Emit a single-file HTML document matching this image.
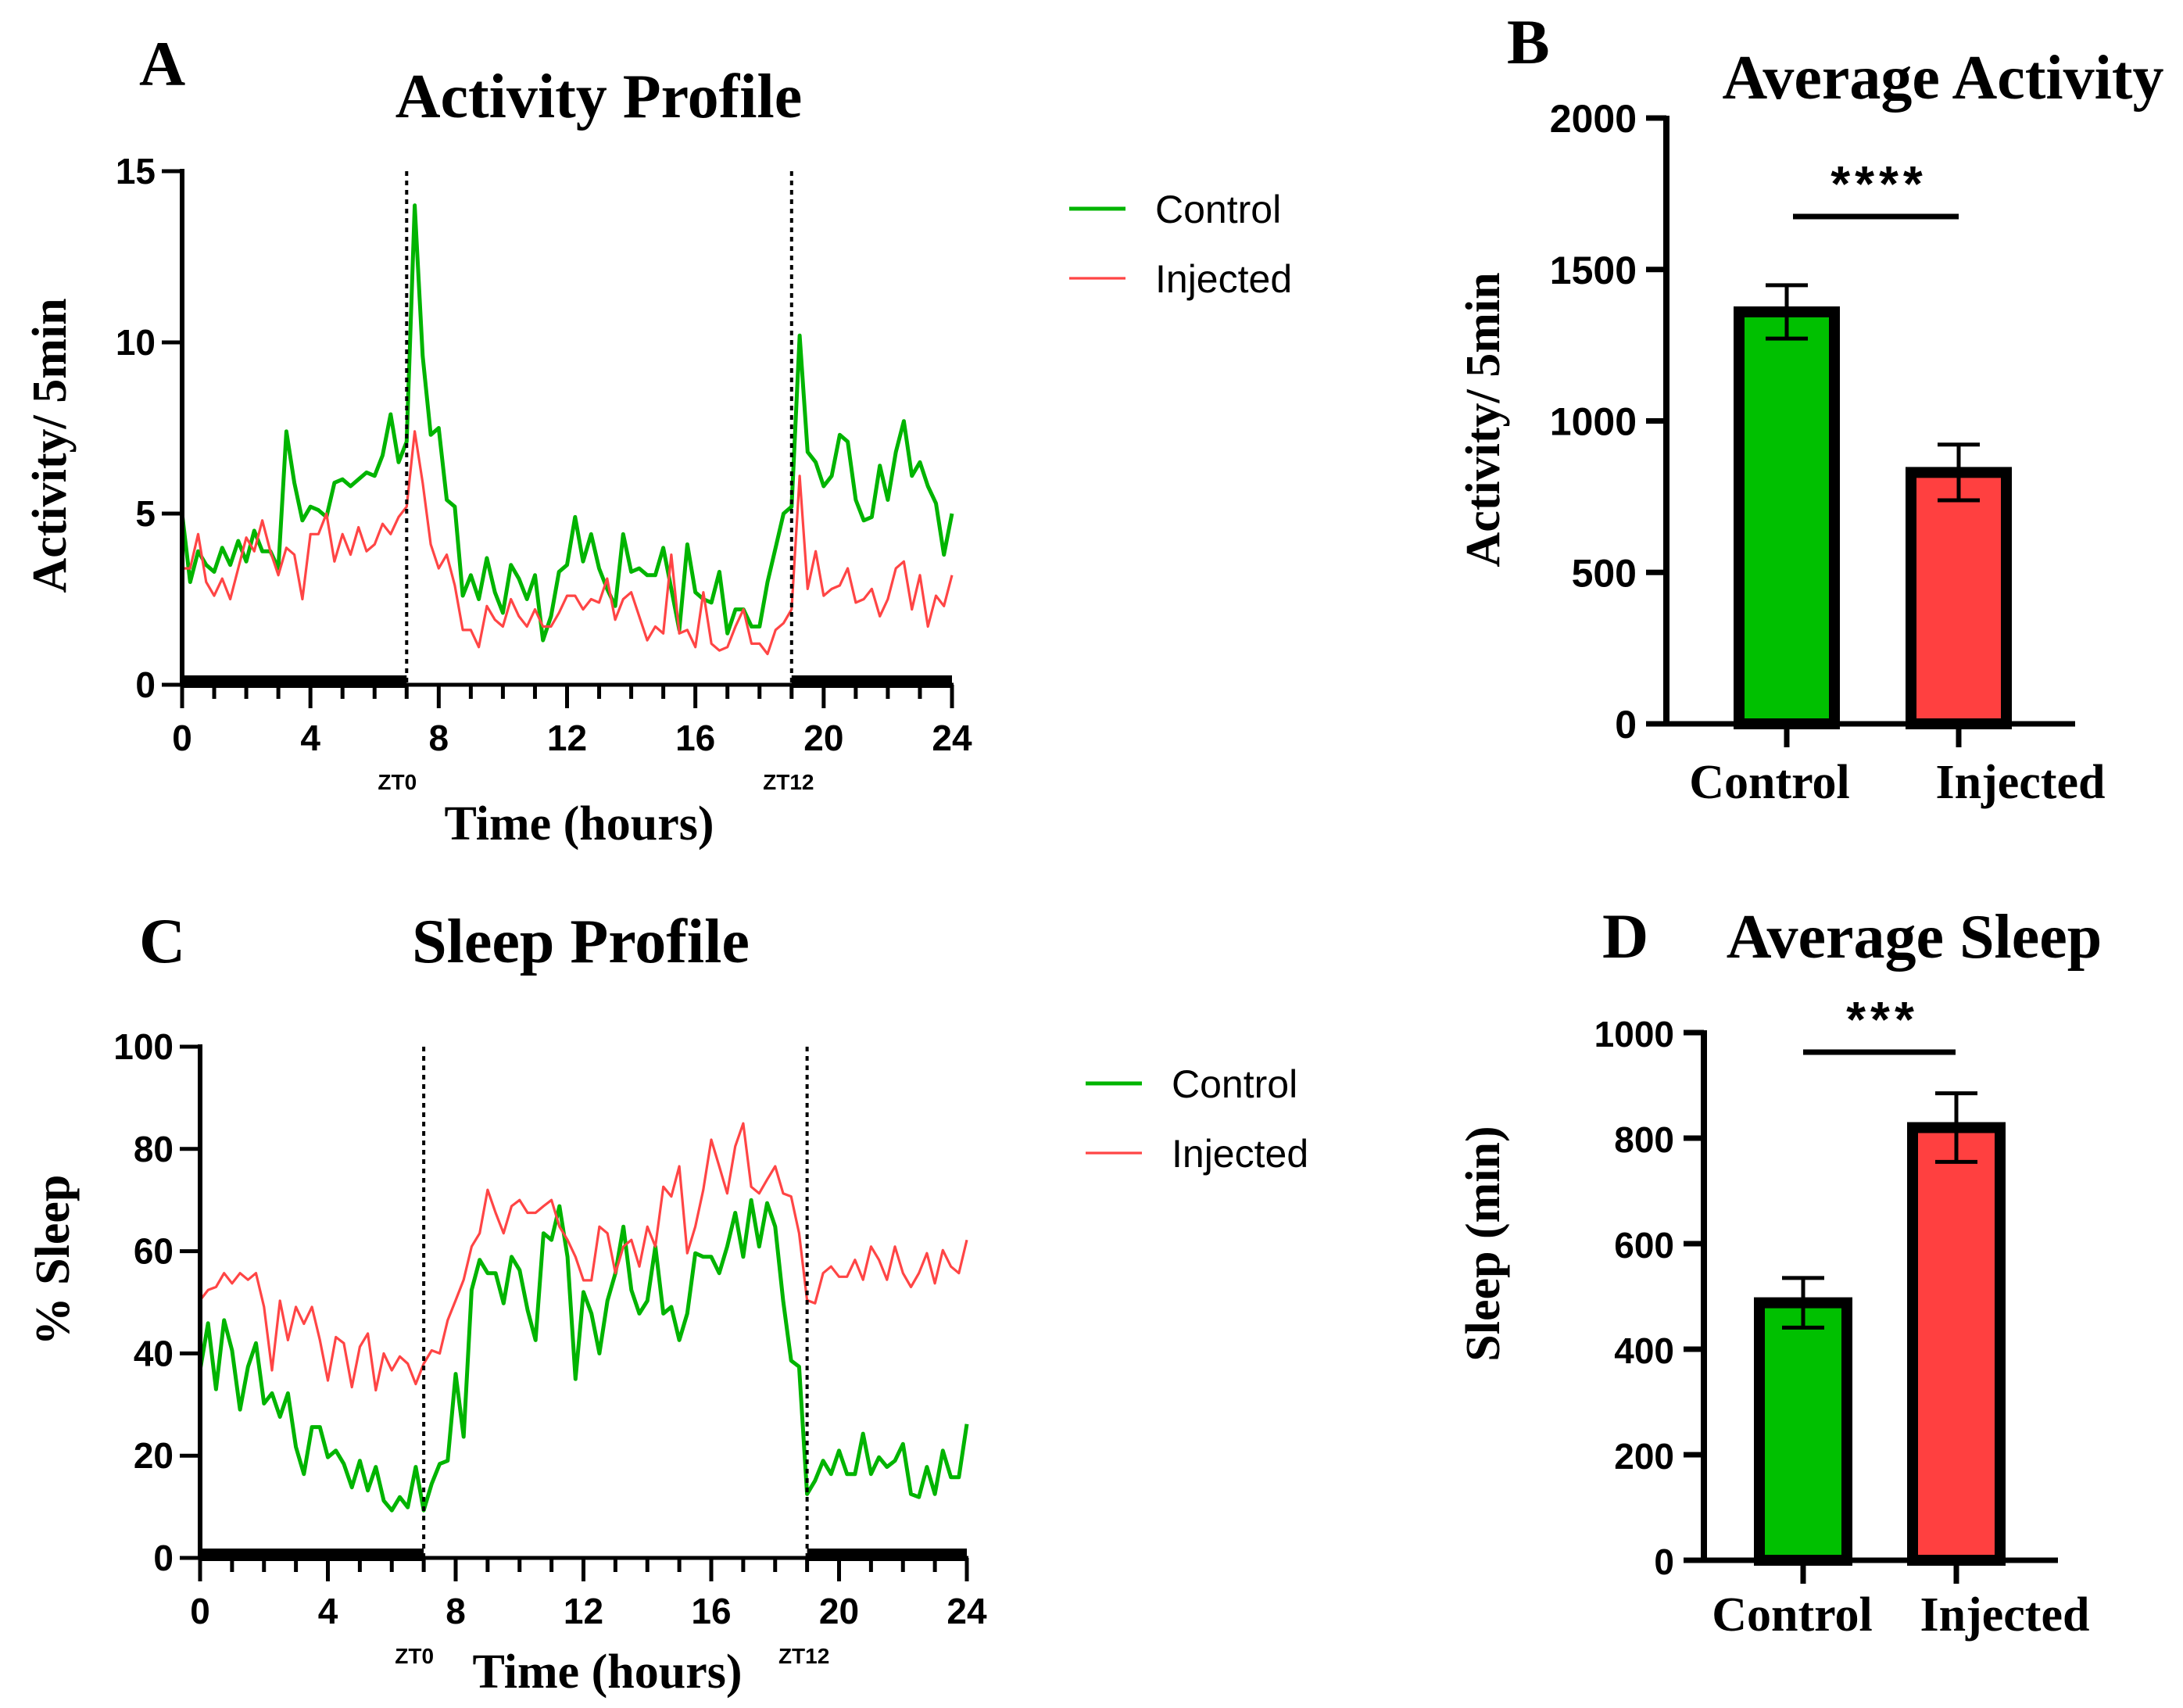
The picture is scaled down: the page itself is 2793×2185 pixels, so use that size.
<!DOCTYPE html>
<html><head><meta charset="utf-8"><style>
html,body{margin:0;padding:0;background:#fff;}
svg{display:block;}
.serif{font-family:"Liberation Serif",serif;font-weight:bold;}
.sans{font-family:"Liberation Sans",sans-serif;}
</style></head><body>
<svg id="fig" xmlns="http://www.w3.org/2000/svg" width="2793" height="2185" viewBox="0 0 2793 2185"></svg>
<script>
// ---------- data ----------
const hours = []; for (let i = 0; i <= 96; i++) hours.push(i * 0.25);
const xTicksHours = [0, 4, 8, 12, 16, 20, 24];
const activityTicks = [0, 5, 10, 15];
const sleepTicks = [0, 20, 40, 60, 80, 100];
const activityControl = [5.0,3.0,3.9,3.5,3.3,4.0,3.5,4.2,3.6,4.5,3.9,3.9,3.4,7.4,5.9,4.8,5.2,5.1,4.9,5.9,6.0,5.8,6.0,6.2,6.1,6.7,7.9,6.5,7.1,14.0,9.6,7.3,7.5,5.4,5.2,2.6,3.2,2.5,3.7,2.7,2.1,3.5,3.1,2.5,3.2,1.3,2.0,3.3,3.5,4.9,3.6,4.4,3.4,2.8,2.3,4.4,3.3,3.4,3.2,3.2,4.0,2.8,1.6,4.1,2.7,2.5,2.4,3.3,1.5,2.2,2.2,1.7,1.7,3.0,4.0,5.0,5.2,10.2,6.8,6.5,5.8,6.1,7.3,7.1,5.4,4.8,4.9,6.4,5.4,6.8,7.7,6.1,6.5,5.8,5.3,3.8,5.0];
const activityInjected = [3.4,3.4,4.4,3.0,2.6,3.1,2.5,3.4,4.3,3.9,4.8,3.9,3.2,4.0,3.8,2.5,4.4,4.4,5.0,3.6,4.4,3.8,4.6,3.9,4.1,4.7,4.4,4.9,5.2,7.4,5.9,4.1,3.4,3.8,2.9,1.6,1.6,1.1,2.3,1.9,1.7,2.5,2.0,1.7,2.2,1.7,1.7,2.1,2.6,2.6,2.2,2.5,2.4,3.1,1.9,2.5,2.7,2.0,1.3,1.7,1.5,3.8,1.5,1.6,1.1,2.7,1.2,1.0,1.1,1.7,2.2,1.2,1.2,0.9,1.6,1.8,2.2,6.1,2.8,3.9,2.6,2.8,2.9,3.4,2.4,2.5,2.8,2.0,2.5,3.4,3.6,2.2,3.2,1.7,2.6,2.3,3.2];
const sleepControl = [36.7,45.9,33,46.5,40.6,29,37.4,42,30.2,32.2,27.6,32.2,21.7,16.4,25.6,25.6,19.7,21,18.4,13.8,19,13.2,17.8,11.2,9.3,11.9,9.9,17.8,9.3,14.5,18.4,19,36,23.7,52.4,58.3,55.7,55.7,49.8,58.9,56.3,48.5,42.6,63.5,62.2,68.8,58.9,35,52,47.8,40,50.3,55.7,64.8,52.4,47.8,50.3,60.9,47.8,49.1,42.6,47.8,59.6,58.9,58.9,55.7,60.9,67.5,58.9,70,60.9,69.4,64.8,50.3,38.6,37.4,12.5,15.1,19,16.4,21,16.4,16.4,24.3,16.4,19.7,17.8,19,22.3,12.5,11.9,17.8,12.5,21,15.8,15.8,26.2];
const sleepInjected = [50.4,52.4,53,55.7,53.7,55.7,54.4,55.7,49.1,36.7,50.3,42.6,49.1,45.8,49.1,42.6,34.7,43.2,42,33.4,41.3,43.9,32.8,40,36.7,39.4,38,34,38,40.6,40,46.5,50.4,54.4,60.9,63.5,72,67.5,63.5,68.8,70,67.5,67.5,68.8,70,64.8,62.2,58.9,54.3,54.3,64.8,63.5,55.7,60.9,62.2,57,64.8,60.9,72.6,70.7,76.6,59.6,64.8,72,81.8,76.6,71.3,80.5,85,72.6,71.3,74,76.6,71.3,70.7,63.5,50.4,49.8,55.7,57,55,55,58.3,54.4,60.9,58.3,54.4,60.9,55.7,53,55.7,59.6,53.7,60.2,57,55.7,62.2];
const groups = ["Control", "Injected"];
const avgActivity = [1360, 830];
const avgActivityErr = [88, 92];
const avgActivityTicks = [0, 500, 1000, 1500, 2000];
const avgSleep = [488, 820];
const avgSleepErr = [47, 65];
const avgSleepTicks = [0, 200, 400, 600, 800, 1000];

const NS = "http://www.w3.org/2000/svg";
const svg = document.getElementById("fig");
function mk(tag, attrs, parent) {
  const e = document.createElementNS(NS, tag);
  for (const k in attrs) e.setAttribute(k, attrs[k]);
  (parent || svg).appendChild(e);
  return e;
}
function txt(x, y, s, size, cls, anchor, parent, extra) {
  const t = mk("text", Object.assign({x: x, y: y, "font-size": size, class: cls, "text-anchor": anchor || "middle", fill: "#000"}, extra || {}), parent);
  t.textContent = s;
  return t;
}

// ---------- line panels ----------
function linePanel(cfg) {
  const g = mk("g", {});
  
  
  const xs = h => cfg.x0 + (h / 24) * (cfg.x1 - cfg.x0);
  const ys = v => cfg.y0 - (v / cfg.ymax) * (cfg.y0 - cfg.yTop);
  [[cfg.ctrl, "#00b400", 5, "control-line"], [cfg.inj, "#ff4545", 3.2, "injected-line"]].forEach(s => {
    let d = "";
    s[0].forEach((v, i) => { d += (i ? "L" : "M") + xs(hours[i]).toFixed(1) + "," + ys(v).toFixed(1); });
    const p = mk("path", {d: d, fill: "none", stroke: s[1], "stroke-width": s[2], "stroke-linejoin": "round"}, g);
    
    
  });
  [7, 19].forEach(h => {
    const l = mk("line", {x1: xs(h), x2: xs(h), y1: cfg.yTop, y2: cfg.y0, stroke: "#000", "stroke-width": 4, "stroke-dasharray": "6,6"}, g);
    
    
  });
  [[0, 7], [19, 24]].forEach(r => {
    const b = mk("rect", {x: xs(r[0]), y: cfg.y0 - 12, width: xs(r[1]) - xs(r[0]), height: 16, fill: "#000"}, g);
    
    
  });
  mk("line", {x1: cfg.x0, x2: cfg.x0, y1: cfg.yTop - 3, y2: cfg.y0 + 2, stroke: "#000", "stroke-width": 6}, g);
  mk("line", {x1: cfg.x0 - 3, x2: cfg.x1 + 2, y1: cfg.y0, y2: cfg.y0, stroke: "#000", "stroke-width": 5}, g);
  for (let h = 0; h <= 24; h++) {
    const major = h % 4 === 0;
    mk("line", {x1: xs(h), x2: xs(h), y1: cfg.y0, y2: cfg.y0 + (major ? 30 : 18), stroke: "#000", "stroke-width": 5}, g);
  }
  xTicksHours.forEach(h => txt(xs(h), cfg.y0 + 84, String(h), 46, "sans", "middle", g, {"font-weight": "bold"}));
  cfg.yticks.forEach(v => {
    mk("line", {x1: cfg.x0 - 26, x2: cfg.x0, y1: ys(v), y2: ys(v), stroke: "#000", "stroke-width": 5}, g);
    txt(cfg.x0 - 34, ys(v) + 16, String(v), 46, "sans", "end", g, {"font-weight": "bold"});
  });
  txt(xs(7) - 12, cfg.ztY, "ZT0", 28, "sans", "middle", g, {"font-weight": "bold"});
  txt(xs(19) - 4, cfg.ztY, "ZT12", 28, "sans", "middle", g, {"font-weight": "bold"});
  txt(cfg.xTitleX, cfg.xTitleY, "Time (hours)", 62, "serif", "middle", g);
  txt(0, 0, cfg.ytitle, 62, "serif", "middle", g, {transform: "translate(" + (cfg.yTitleX) + "," + cfg.yTitleY + ") rotate(-90)"});
  txt(cfg.titleX, cfg.titleY, cfg.title, 80, "serif", "middle", g);
  txt(cfg.letterX, cfg.titleY - cfg.letterDy, cfg.letter, 82, "serif", "start", g);
  [["Control", "#00b400", 5, cfg.legY1], ["Injected", "#ff4545", 3.2, cfg.legY2]].forEach(l => {
    const lg = mk("g", {}, g);
    
    
    mk("line", {x1: cfg.legX, x2: cfg.legX + 72, y1: l[3], y2: l[3], stroke: l[1], "stroke-width": l[2]}, lg);
    txt(cfg.legX + 110, l[3] + 18, l[0], 50, "sans", "start", lg);
  });
}

linePanel({name: "activity-profile-chart", ctrl: activityControl, inj: activityInjected, x0: 233, x1: 1218, y0: 876, yTop: 219, ymax: 15,
  yticks: activityTicks, ytitle: "Activity/ 5min", title: "Activity Profile", titleX: 766, titleY: 150, letter: "A", letterX: 178, letterDy: 41,
  xTitleX: 741, xTitleY: 1074, yTitleX: 84, yTitleY: 570, ztY: 1010, legX: 1368, legY1: 267, legY2: 356});
linePanel({name: "sleep-profile-chart", ctrl: sleepControl, inj: sleepInjected, x0: 256, x1: 1237, y0: 1993, yTop: 1339, ymax: 100,
  yticks: sleepTicks, ytitle: "% Sleep", title: "Sleep Profile", titleX: 743, titleY: 1231, letter: "C", letterX: 178, letterDy: 0,
  xTitleX: 777, xTitleY: 2159, yTitleX: 88, yTitleY: 1612, ztY: 2128, legX: 1389, legY1: 1386, legY2: 1475});

// ---------- bar panels ----------
function barPanel(cfg) {
  const g = mk("g", {});
  
  
  const ys = v => cfg.y0 - (v / cfg.ymax) * (cfg.y0 - cfg.yTop);
  cfg.vals.forEach((v, i) => {
    const cx = cfg.centers[i];
    const b = mk("rect", {x: cx - cfg.bw / 2 + 7, y: ys(v), width: cfg.bw - 14, height: cfg.y0 - ys(v), fill: i ? "#ff4040" : "#00c000", stroke: "#000", "stroke-width": 14}, g);
    
    
    const e = cfg.errs[i];
    const eg = mk("g", {stroke: "#000", "stroke-width": 5}, g);
    
    
    mk("line", {x1: cx, x2: cx, y1: ys(v + e), y2: ys(v - e)}, eg);
    mk("line", {x1: cx - 27, x2: cx + 27, y1: ys(v + e), y2: ys(v + e)}, eg);
    mk("line", {x1: cx - 27, x2: cx + 27, y1: ys(v - e), y2: ys(v - e)}, eg);
    mk("line", {x1: cx, x2: cx, y1: cfg.y0, y2: cfg.y0 + 30, stroke: "#000", "stroke-width": 7}, g);
    txt(cfg.catX[i], cfg.catY, groups[i], 62, "serif", "middle", g);
  });
  mk("line", {x1: cfg.x0, x2: cfg.x0, y1: cfg.yTop - 3, y2: cfg.y0 + 3, stroke: "#000", "stroke-width": 8}, g);
  mk("line", {x1: cfg.x0, x2: cfg.x1, y1: cfg.y0, y2: cfg.y0, stroke: "#000", "stroke-width": 7}, g);
  cfg.ticks.forEach(v => {
    mk("line", {x1: cfg.x0 - 26, x2: cfg.x0, y1: ys(v), y2: ys(v), stroke: "#000", "stroke-width": 7}, g);
    txt(cfg.x0 - 38, ys(v) + 18, String(v), cfg.tickSize, "sans", "end", g, {"font-weight": "bold"});
  });
  mk("line", {x1: cfg.sig[0], x2: cfg.sig[1], y1: cfg.sigY, y2: cfg.sigY, stroke: "#000", "stroke-width": 7}, g);
  txt((cfg.sig[0] + cfg.sig[1]) / 2 + 4, cfg.sigY - 20, cfg.stars, 64, "sans", "middle", g, {"letter-spacing": "6", "font-weight": "bold"});
  txt(0, 0, cfg.ytitle, 62, "serif", "middle", g, {transform: "translate(" + cfg.yTitleX + "," + cfg.yTitleY + ") rotate(-90)"});
  txt(cfg.titleX, cfg.titleY, cfg.title, 80, "serif", "middle", g);
  txt(cfg.letterX, cfg.letterY, cfg.letter, 82, "serif", "start", g);
}

barPanel({name: "average-activity-chart", vals: avgActivity, errs: avgActivityErr, ticks: avgActivityTicks, ymax: 2000,
  x0: 2132, x1: 2655, y0: 926, yTop: 151, centers: [2286, 2506], catX: [2264, 2585], bw: 136, catY: 1021, tickSize: 50,
  sig: [2294, 2506], sigY: 277, stars: "****", ytitle: "Activity/ 5min", yTitleX: 1918, yTitleY: 537,
  title: "Average Activity", titleX: 2486, titleY: 126, letter: "B", letterX: 1928, letterY: 81});
barPanel({name: "average-sleep-chart", vals: avgSleep, errs: avgSleepErr, ticks: avgSleepTicks, ymax: 1000,
  x0: 2180, x1: 2633, y0: 1996, yTop: 1321, centers: [2307, 2503], catX: [2293, 2565], bw: 126, catY: 2086, tickSize: 46,
  sig: [2307, 2502], sigY: 1346, stars: "***", ytitle: "Sleep (min)", yTitleX: 1918, yTitleY: 1591,
  title: "Average Sleep", titleX: 2449, titleY: 1225, letter: "D", letterX: 2050, letterY: 1225});
</script>
</body></html>
